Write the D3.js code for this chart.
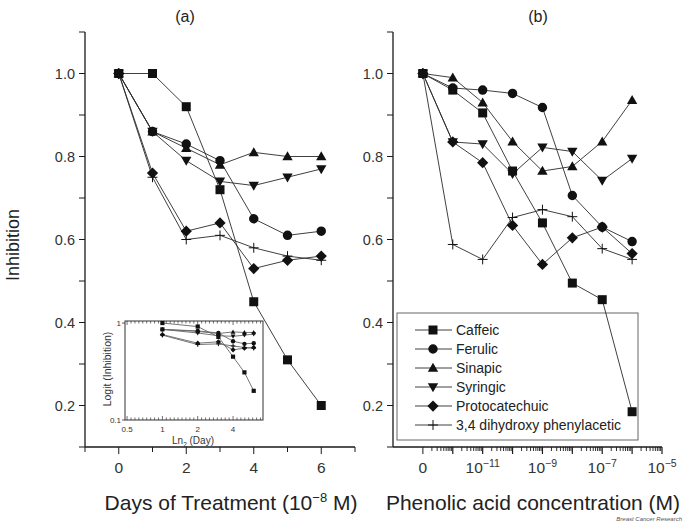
<!DOCTYPE html>
<html><head><meta charset="utf-8">
<script src="https://cdnjs.cloudflare.com/ajax/libs/d3/7.8.5/d3.min.js"></script>
<style>
html,body{margin:0;padding:0;background:#fff;}
svg{display:block;font-family:"Liberation Sans",Arial,sans-serif;}
</style></head>
<body><svg id="c" width="685" height="524"></svg>
<script>
// ---------- DATA ----------
const seriesNames = ["Caffeic","Ferulic","Sinapic","Syringic","Protocatechuic","3,4 dihydroxy phenylacetic"];
const seriesMarkers = ["square","circle","triangle","triangleDown","diamond","plus"];

// Panel (a): days of treatment at 10^-8 M
const days = [0,1,2,3,4,5,6];
const caffeicA   = [1.00,1.00,0.92,0.72,0.45,0.31,0.20];
const ferulicA   = [1.00,0.86,0.83,0.79,0.65,0.61,0.62];
const sinapicA   = [1.00,0.86,0.82,0.78,0.81,0.80,0.80];
const syringicA  = [1.00,0.86,0.79,0.74,0.73,0.75,0.77];
const protocatA  = [1.00,0.76,0.62,0.64,0.53,0.55,0.56];
const dhpaA      = [1.00,0.75,0.60,0.61,0.58,0.56,0.55];

// Panel (b): phenolic acid concentration (M)
const concentrations = [0,1e-12,1e-11,1e-10,1e-9,1e-8,1e-7,1e-6];
const caffeicB   = [1.00,0.96,0.905,0.765,0.64,0.495,0.455,0.185];
const ferulicB   = [1.00,0.965,0.96,0.952,0.918,0.706,0.63,0.595];
const sinapicB   = [1.00,0.99,0.93,0.836,0.765,0.776,0.836,0.936];
const syringicB  = [1.00,0.835,0.83,0.758,0.822,0.812,0.742,0.795];
const protocatB  = [1.00,0.835,0.785,0.634,0.54,0.604,0.63,0.566];
const dhpaB      = [1.00,0.588,0.552,0.653,0.672,0.655,0.578,0.552];

// Inset: log-log of days 1..6
const insetDays = [1,2,3,4,5,6];

// Ticks / labels
const yTickValues = [0.1,0.2,0.3,0.4,0.5,0.6,0.7,0.8,0.9,1.0,1.1];
const yTickLabels = [0.2,0.4,0.6,0.8,1.0];
const xTicksA = [-1,0,1,2,3,4,5,6,7];
const xLabelsA = [0,2,4,6];
const xLabelsB = [{v:0,base:"0",exp:""},{v:1e-11,base:"10",exp:"−11"},{v:1e-9,base:"10",exp:"−9"},{v:1e-7,base:"10",exp:"−7"},{v:1e-5,base:"10",exp:"−5"}];
const insetXLabels = [0.5,1,2,4];
const insetYLabels = [{v:1,t:"1"},{v:0.1,t:"0.1"}];

const dataA = [caffeicA,ferulicA,sinapicA,syringicA,protocatA,dhpaA];
const dataB = [caffeicB,ferulicB,sinapicB,syringicB,protocatB,dhpaB];

// ---------- DRAW ----------
const svg = d3.select("#c");
const INK = "#1a1a1a", LINE = "#2a2a2a";

function markerPath(type, s){ // s = half size
  const p = d3.path();
  switch(type){
    case "square": p.rect(-s,-s,2*s,2*s); break;
    case "circle": p.arc(0,0,s*1.05,0,2*Math.PI); break;
    case "triangle": p.moveTo(0,-s*1.15); p.lineTo(s*1.15,s*0.85); p.lineTo(-s*1.15,s*0.85); p.closePath(); break;
    case "triangleDown": p.moveTo(0,s*1.15); p.lineTo(s*1.15,-s*0.85); p.lineTo(-s*1.15,-s*0.85); p.closePath(); break;
    case "diamond": p.moveTo(0,-s*1.25); p.lineTo(s*1.25,0); p.lineTo(0,s*1.25); p.lineTo(-s*1.25,0); p.closePath(); break;
    case "plus": p.moveTo(-s*1.1,0); p.lineTo(s*1.1,0); p.moveTo(0,-s*1.1); p.lineTo(0,s*1.1); break;
  }
  return p.toString();
}
function drawMarker(g, type, x, y, s, color){
  const m = g.append("path").attr("d", markerPath(type,s)).attr("transform",`translate(${x},${y})`);
  if(type==="plus") m.attr("fill","none").attr("stroke",color).attr("stroke-width",1);
  else m.attr("fill",color).attr("stroke","none");
}

const y = d3.scaleLinear().domain([0.1,1.1]).range([447,32]);
const xA = d3.scaleLinear().domain([-1,7]).range([85,355]);
const xB = d3.scaleLinear().domain([-14,-5]).range([393,662]);
const posB = c => c===0 ? -13 : Math.log10(c);

function yAxis(x0){
  const g = svg.append("g");
  g.append("line").attr("x1",x0).attr("x2",x0).attr("y1",y(1.1)).attr("y2",y(0.1)).attr("stroke",INK).attr("stroke-width",1.3);
  yTickValues.forEach(v=>{
    g.append("line").attr("x1",x0-6).attr("x2",x0).attr("y1",y(v)).attr("y2",y(v)).attr("stroke",INK).attr("stroke-width",1);
  });
  yTickLabels.forEach(v=>{
    g.append("text").attr("x",x0-10).attr("y",y(v)).attr("dy","0.35em").attr("text-anchor","end")
      .attr("font-size",14.5).attr("fill","#333").text(d3.format(".1f")(v));
  });
}

// Panel A axes
yAxis(85);
svg.append("line").attr("x1",85).attr("x2",355).attr("y1",447).attr("y2",447).attr("stroke",INK).attr("stroke-width",1.3);
xTicksA.forEach(v=>{
  const major = xLabelsA.includes(v);
  svg.append("line").attr("x1",xA(v)).attr("x2",xA(v)).attr("y1",447).attr("y2",447+(major?7:5)).attr("stroke",INK).attr("stroke-width",1);
});
xLabelsA.forEach(v=>{
  svg.append("text").attr("x",xA(v)).attr("y",468).attr("dy","0.35em").attr("text-anchor","middle").attr("font-size",15.5).attr("fill","#333").text(v);
});

// Panel B axes
yAxis(393);
svg.append("line").attr("x1",393).attr("x2",662).attr("y1",447).attr("y2",447).attr("stroke",INK).attr("stroke-width",1.3);
svg.append("line").attr("x1",xB(-13)).attr("x2",xB(-13)).attr("y1",447).attr("y2",454).attr("stroke",INK).attr("stroke-width",1);
for(let d=-13; d<-5; d++){
  for(let k=2;k<=9;k++){
    const v = d + Math.log10(k);
    svg.append("line").attr("x1",xB(v)).attr("x2",xB(v)).attr("y1",447).attr("y2",451).attr("stroke",INK).attr("stroke-width",0.9);
  }
  svg.append("line").attr("x1",xB(d+1)).attr("x2",xB(d+1)).attr("y1",447).attr("y2",454).attr("stroke",INK).attr("stroke-width",1.2);
}
xLabelsB.forEach(l=>{
  const t = svg.append("text").attr("x",xB(posB(l.v))).attr("y",468).attr("dy","0.35em").attr("text-anchor","middle").attr("font-size",15.5).attr("fill","#333");
  t.append("tspan").text(l.base);
  if(l.exp) t.append("tspan").attr("dy","-6").attr("font-size",10.5).text(l.exp);
});

// Titles
svg.append("text").attr("x",185).attr("y",16).attr("dy","0.35em").attr("text-anchor","middle").attr("font-size",16).attr("fill","#222").text("(a)");
svg.append("text").attr("x",538).attr("y",16).attr("dy","0.35em").attr("text-anchor","middle").attr("font-size",16).attr("fill","#222").text("(b)");
const xtA = svg.append("text").attr("x",231).attr("y",510).attr("text-anchor","middle").attr("font-size",21).attr("fill","#222");
xtA.append("tspan").text("Days of Treatment (10");
xtA.append("tspan").attr("dy","-8").attr("font-size",13).text("−8");
xtA.append("tspan").attr("dy","8").text(" M)");
svg.append("text").attr("x",533).attr("y",510).attr("text-anchor","middle").attr("font-size",21).attr("fill","#222").text("Phenolic acid concentration (M)");
svg.append("text").attr("transform","translate(13,245) rotate(-90)").attr("dy","0.35em").attr("text-anchor","middle").attr("font-size",18).attr("fill","#222").text("Inhibition");
svg.append("text").attr("x",682).attr("y",521).attr("text-anchor","end").attr("font-size",6).attr("font-style","italic").attr("fill","#555").text("Breast Cancer Research");

// Legend (drawn under the series, as in the reference)
const lg = svg.append("g");
lg.append("rect").attr("x",397).attr("y",313).attr("width",241).attr("height",127).attr("fill","#fff").attr("stroke","#666").attr("stroke-width",1);
seriesNames.forEach((n,i)=>{
  const yy = 330 + i*19;
  lg.append("line").attr("x1",415).attr("x2",452).attr("y1",yy).attr("y2",yy).attr("stroke",LINE).attr("stroke-width",0.9);
  drawMarker(lg, seriesMarkers[i], 433, yy, 4.5, "#111");
  lg.append("text").attr("x",456).attr("y",yy).attr("dy","0.35em").attr("font-size",14).attr("fill","#222").text(n);
});

// Series plotting
function plotSeries(xs, xScale, data, xf){
  data.forEach((vals,i)=>{
    const pts = vals.map((v,j)=>[xScale(xf(xs[j])), y(v)]);
    svg.append("path").attr("d", d3.line()(pts)).attr("fill","none").attr("stroke",LINE).attr("stroke-width",0.9);
  });
  data.forEach((vals,i)=>{
    const g = svg.append("g");
    vals.forEach((v,j)=> drawMarker(g, seriesMarkers[i], xScale(xf(xs[j])), y(v), 4.5, "#111"));
  });
}
plotSeries(days, xA, dataA, d=>d);
plotSeries(concentrations, xB, dataB, posB);

// Inset
const ix = d3.scaleLog().domain([0.48,7.2]).range([125,263]);
const iy = d3.scaleLog().domain([0.1,1.05]).range([420,321]);
const inset = svg.append("g");
inset.append("rect").attr("x",125).attr("y",321).attr("width",138).attr("height",99).attr("fill","#fff").attr("stroke","#333").attr("stroke-width",1);
for(let i=0;i<=36;i++){
  const v = 0.5*Math.pow(2,i/9);
  if(v>7.2) break;
  const major = insetXLabels.some(l=>Math.abs(l-v)<1e-9);
  const len = major?4:2.5;
  inset.append("line").attr("x1",ix(v)).attr("x2",ix(v)).attr("y1",420).attr("y2",420-len).attr("stroke","#333").attr("stroke-width",0.7);
  inset.append("line").attr("x1",ix(v)).attr("x2",ix(v)).attr("y1",321).attr("y2",321+len).attr("stroke","#333").attr("stroke-width",0.7);
}
insetYLabels.forEach(l=>{
  inset.append("line").attr("x1",122).attr("x2",125).attr("y1",iy(l.v)).attr("y2",iy(l.v)).attr("stroke","#333").attr("stroke-width",0.8);
  inset.append("text").attr("x",121).attr("y",iy(l.v)).attr("dy","0.35em").attr("text-anchor","end").attr("font-size",8).attr("fill","#333").text(l.t);
});
insetXLabels.forEach(v=>{
  inset.append("text").attr("x",ix(v)).attr("y",429).attr("dy","0.35em").attr("text-anchor","middle").attr("font-size",8).attr("fill","#333").text(v);
});
const il = inset.append("text").attr("x",193).attr("y",440).attr("dy","0.35em").attr("text-anchor","middle").attr("font-size",10).attr("fill","#333");
il.append("tspan").text("Ln");
il.append("tspan").attr("dy","3").attr("font-size",6.5).text("2");
il.append("tspan").attr("dy","-3").text(" (Day)");
inset.append("text").attr("transform","translate(107,369) rotate(-90)").attr("dy","0.35em").attr("text-anchor","middle").attr("font-size",10.5).attr("fill","#333").text("Logit (Inhibition)");
dataA.forEach((vals,i)=>{
  const pts = insetDays.map(d=>[ix(d), iy(vals[d])]);
  inset.append("path").attr("d",d3.line()(pts)).attr("fill","none").attr("stroke","#666").attr("stroke-width",0.9);
});
dataA.forEach((vals,i)=>{
  insetDays.forEach(d=> drawMarker(inset, seriesMarkers[i], ix(d), iy(vals[d]), 2.1, "#111"));
});
</script></body></html>
